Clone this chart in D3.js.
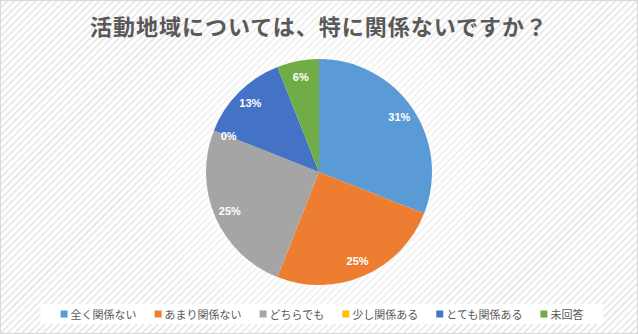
<!DOCTYPE html>
<html>
<head>
<meta charset="utf-8">
<script src="https://cdn.jsdelivr.net/npm/d3@7"></script>
<style>
html,body{margin:0;padding:0;background:#fff;}
svg{display:block;}
</style>
</head>
<body>
<svg id="chart" width="638" height="334"></svg>
<script>
const title = "活動地域については、特に関係ないですか？";
const categories = ["全く関係ない", "あまり関係ない", "どちらでも", "少し関係ある", "とても関係ある", "未回答"];
const values = [31, 25, 25, 0, 13, 6];
const colors = ["#5B9BD5", "#ED7D31", "#A5A5A5", "#FFC000", "#4472C4", "#70AD47"];

const W = 638, H = 334;
const svg = d3.select("#chart");
const defs = svg.append("defs");

// hatch pattern background
const pat = defs.append("pattern")
  .attr("id", "hatch").attr("patternUnits", "userSpaceOnUse")
  .attr("width", 5).attr("height", 5)
  .attr("patternTransform", "rotate(-45)");
pat.append("rect").attr("width", 5).attr("height", 5).attr("fill", "#ffffff");
pat.append("rect").attr("width", 5).attr("height", 2).attr("fill", "#e9e9e9");

const glow = defs.append("radialGradient").attr("id", "glow")
  .attr("gradientUnits", "userSpaceOnUse")
  .attr("cx", 319).attr("cy", 168).attr("r", 200);
glow.append("stop").attr("offset", "0%").attr("stop-color", "#fff").attr("stop-opacity", 1);
glow.append("stop").attr("offset", "55%").attr("stop-color", "#fff").attr("stop-opacity", 0.5);
glow.append("stop").attr("offset", "100%").attr("stop-color", "#fff").attr("stop-opacity", 0);

svg.append("rect").attr("x", 0).attr("y", 0).attr("width", W).attr("height", H).attr("fill", "url(#hatch)");
svg.append("rect").attr("x", 0).attr("y", 0).attr("width", W).attr("height", H).attr("fill", "url(#glow)");
svg.append("rect").attr("x", 0.5).attr("y", 0.5).attr("width", W - 1).attr("height", H - 1)
  .attr("fill", "none").attr("stroke", "#d9d9d9").attr("stroke-width", 1);

// title
svg.append("text")
  .attr("x", 319).attr("y", 35)
  .attr("text-anchor", "middle")
  .attr("font-family", "'Noto Sans CJK JP', sans-serif")
  .attr("font-weight", "bold")
  .attr("font-size", 22)
  .attr("letter-spacing", 1)
  .attr("fill", "#595959")
  .text(title);

// pie
const cx = 319, cy = 172, R = 113;
const pie = d3.pie().sort(null).value(d => d);
const arcs = pie(values);
const arc = d3.arc().innerRadius(0).outerRadius(R);
const labelArc = d3.arc().innerRadius(R * 0.86).outerRadius(R * 0.86);

const g = svg.append("g").attr("transform", `translate(${cx},${cy})`);
g.selectAll("path.slice").data(arcs).enter().append("path")
  .attr("class", "slice")
  .attr("d", arc)
  .attr("fill", (d, i) => colors[i]);

const total = d3.sum(values);
g.selectAll("text.lbl").data(arcs).enter().append("text")
  .attr("class", "lbl")
  .attr("transform", d => `translate(${labelArc.centroid(d)})`)
  .attr("text-anchor", "middle")
  .attr("dominant-baseline", "central")
  .attr("font-family", "'Liberation Sans', Arial, sans-serif")
  .attr("font-weight", "bold")
  .attr("font-size", 11)
  .attr("fill", "#ffffff")
  .text(d => Math.round(d.data / total * 100) + "%");

// legend
const legY = 314;
const legendBg = svg.append("rect").attr("fill", "#ffffff");
const leg = svg.append("g");
const items = leg.selectAll("g.item").data(categories).enter().append("g").attr("class", "item");
items.append("rect").attr("width", 7).attr("height", 7).attr("y", legY - 3.5)
  .attr("fill", (d, i) => colors[i]);
items.append("text")
  .attr("x", 10).attr("y", legY)
  .attr("dominant-baseline", "central")
  .attr("font-family", "'Noto Sans CJK JP', sans-serif")
  .attr("font-size", 11)
  .attr("fill", "#595959")
  .text(d => d);
const gap = 18;
const widths = [];
items.each(function () {
  widths.push(10 + d3.select(this).select("text").node().getComputedTextLength());
});
const totalW = d3.sum(widths) + gap * (widths.length - 1);
let x0 = 322 - totalW / 2;
items.attr("transform", (d, i) => {
  const x = x0;
  x0 += widths[i] + gap;
  return `translate(${x},0)`;
});
legendBg.attr("x", 322 - totalW / 2 - 20).attr("y", legY - 10).attr("width", totalW + 40).attr("height", 20);
</script>
</body>
</html>
